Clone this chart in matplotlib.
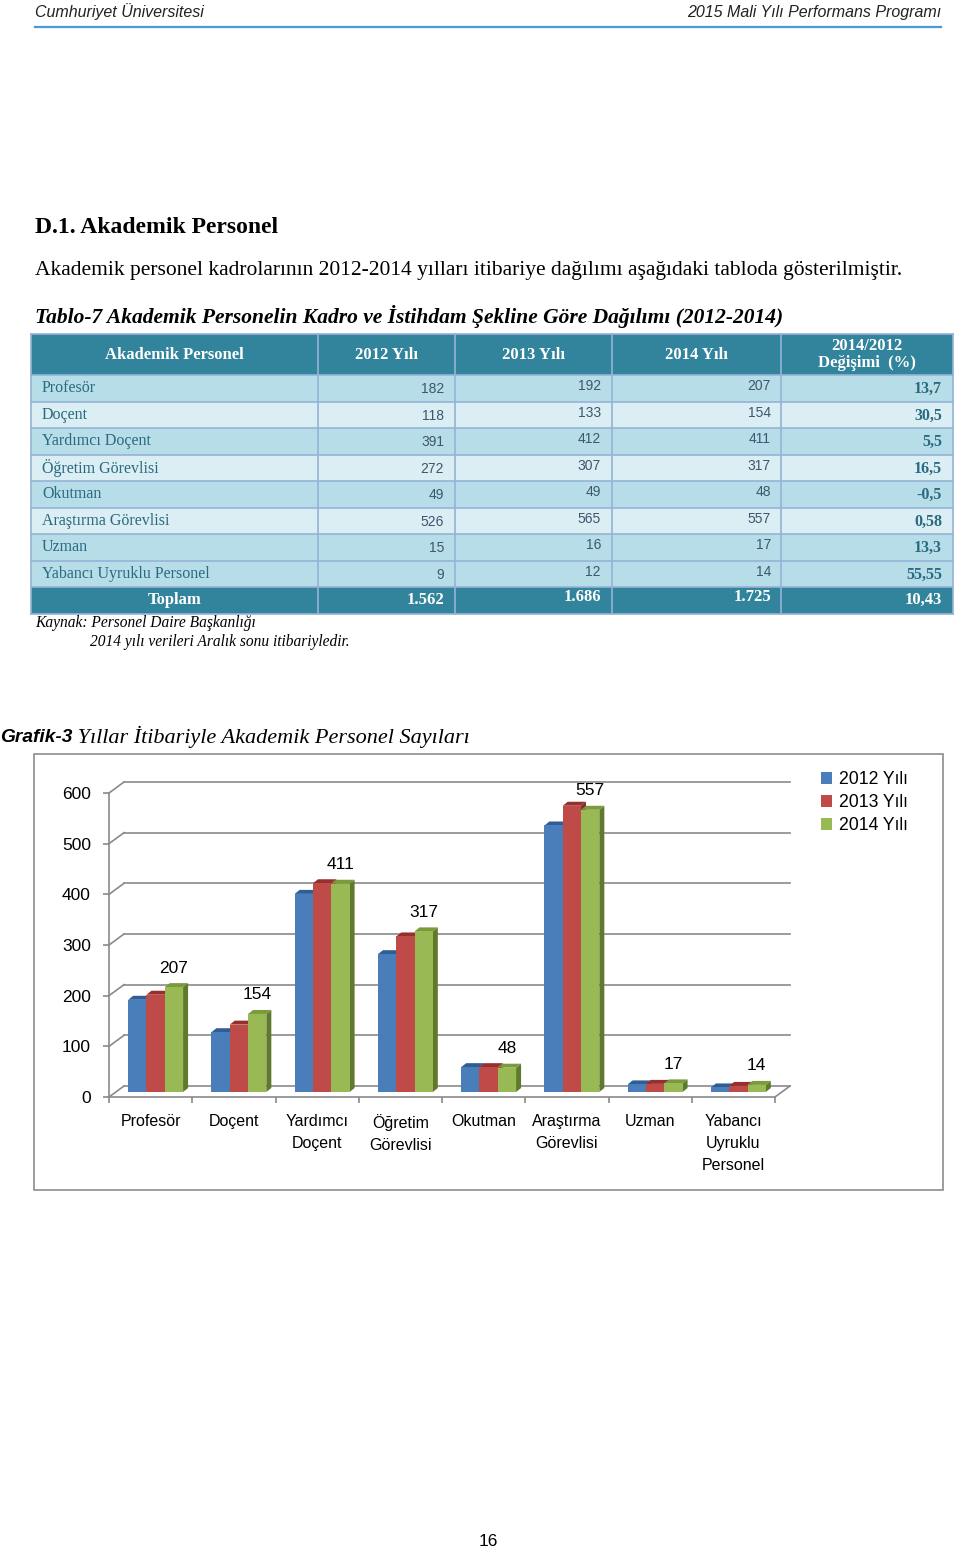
import numpy as np
import matplotlib
matplotlib.use("Agg")
import matplotlib.pyplot as plt
from matplotlib.patches import Rectangle, Polygon, Patch

SANS = "Liberation Sans"
SERIF = "Liberation Serif"

# table / chart data
categories = ["Profesör", "Doçent", "Yardımcı Doçent", "Öğretim Görevlisi",
              "Okutman", "Araştırma Görevlisi", "Uzman", "Yabancı Uyruklu Personel"]
chart_labels = ["Profesör", "Doçent", "Yardımcı\nDoçent", "Öğretim\nGörevlisi",
                "Okutman", "Araştırma\nGörevlisi", "Uzman", "Yabancı\nUyruklu\nPersonel"]
y2012 = [182, 118, 391, 272, 49, 526, 15, 9]
y2013 = [192, 133, 412, 307, 49, 565, 16, 12]
y2014 = [207, 154, 411, 317, 48, 557, 17, 14]
change = ["13,7", "30,5", "5,5", "16,5", "-0,5", "0,58", "13,3", "55,55"]
totals = ["1.562", "1.686", "1.725", "10,43"]
series_names = ["2012 Yılı", "2013 Yılı", "2014 Yılı"]
col_headers = ["Akademik Personel", "2012 Yılı", "2013 Yılı", "2014 Yılı", "2014/2012\nDeğişimi  (%)"]
y_ticks = [0, 100, 200, 300, 400, 500, 600]

W, H = 960, 1549
fig = plt.figure(figsize=(W / 100, H / 100), dpi=100)
page = fig.add_axes([0, 0, 1, 1])
page.set_xlim(0, W)
page.set_ylim(H, 0)
page.axis("off")

# --- page header ---
page.text(35, 12, "Cumhuriyet Üniversitesi", family=SANS, style="italic", fontsize=11.5,
          va="center", ha="left", color="#222222")
page.text(941, 12, "2015 Mali Yılı Performans Programı", family=SANS, style="italic",
          fontsize=11.5, va="center", ha="right", color="#222222")
page.plot([35, 941], [27, 27], color="#4A9AD4", lw=1.6)

page.text(35, 227, "D.1. Akademik Personel", family=SERIF, weight="bold", fontsize=17,
          va="center")
page.text(35, 270, "Akademik personel kadrolarının 2012-2014 yılları itibariye dağılımı "
          "aşağıdaki tabloda gösterilmiştir.", family=SERIF, fontsize=15.5, va="center")
page.text(35, 316, "Tablo-7 Akademik Personelin Kadro ve İstihdam Şekline Göre Dağılımı (2012-2014)",
          family=SERIF, weight="bold", style="italic", fontsize=15.5, va="center")

# --- table ---
col_x = [31, 318, 455, 612, 781, 953]
head_top, head_bot = 334, 375
row_h = 26.5
dark = "#31849B"
med = "#B7DDE8"
light = "#DAEEF3"
line_c = "#95B3D7"
row_fill = [med, light, med, light, med, light, med, med]

page.add_patch(Rectangle((col_x[0], head_top), col_x[-1] - col_x[0], head_bot - head_top,
                         facecolor=dark, edgecolor="none"))
for i in range(len(categories)):
    top = head_bot + i * row_h
    page.add_patch(Rectangle((col_x[0], top), col_x[-1] - col_x[0], row_h,
                             facecolor=row_fill[i], edgecolor="none"))
tot_top = head_bot + len(categories) * row_h
page.add_patch(Rectangle((col_x[0], tot_top), col_x[-1] - col_x[0], row_h,
                         facecolor=dark, edgecolor="none"))
# grid lines
for k in range(len(categories) + 2):
    yy = head_bot + k * row_h
    page.plot([col_x[0], col_x[-1]], [yy, yy], color=line_c, lw=1.2)
page.plot([col_x[0], col_x[-1]], [head_top, head_top], color=line_c, lw=1.2)
for xx in col_x:
    page.plot([xx, xx], [head_top, tot_top + row_h], color=line_c, lw=1.2)

head_cy = (head_top + head_bot) / 2
for j, hdr in enumerate(col_headers):
    cx = (col_x[j] + col_x[j + 1]) / 2
    page.text(cx, head_cy, hdr, family=SERIF, weight="bold", fontsize=12, color="white",
              ha="center", va="center", linespacing=1.05)

txt_c = "#2A6A80"
num_c = "#3E5670"
for i, name in enumerate(categories):
    cy = head_bot + i * row_h + row_h / 2
    page.text(42, cy, name, family=SERIF, fontsize=11.5, color=txt_c, ha="left", va="center")
    page.text(col_x[2] - 11, cy + 1, str(y2012[i]), family=SANS, fontsize=10, color=num_c,
              ha="right", va="center")
    page.text(col_x[3] - 11, cy - 2, str(y2013[i]), family=SANS, fontsize=10, color=num_c,
              ha="right", va="center")
    page.text(col_x[4] - 10, cy - 2, str(y2014[i]), family=SANS, fontsize=10, color=num_c,
              ha="right", va="center")
    page.text(col_x[5] - 11, cy + 1, change[i], family=SERIF, weight="bold", fontsize=11.5,
              color=txt_c, ha="right", va="center")

tcy = tot_top + row_h / 2
page.text((col_x[0] + col_x[1]) / 2, tcy, "Toplam", family=SERIF, weight="bold", fontsize=12,
          color="white", ha="center", va="center")
page.text(col_x[2] - 11, tcy, totals[0], family=SERIF, weight="bold", fontsize=12,
          color="white", ha="right", va="center")
page.text(col_x[3] - 11, tcy - 3, totals[1], family=SERIF, weight="bold", fontsize=12,
          color="white", ha="right", va="center")
page.text(col_x[4] - 10, tcy - 3, totals[2], family=SERIF, weight="bold", fontsize=12,
          color="white", ha="right", va="center")
page.text(col_x[5] - 11, tcy, totals[3], family=SERIF, weight="bold", fontsize=12,
          color="white", ha="right", va="center")

page.text(35, 623, "Kaynak: Personel Daire Başkanlığı", family=SERIF, style="italic",
          fontsize=11.2, va="center")
page.text(90, 642, "2014 yılı verileri Aralık sonu itibariyledir.", family=SERIF,
          style="italic", fontsize=11.2, va="center")

# --- chart title ---
t1 = page.text(0, 737, "Grafik-3", family=SANS, weight="bold", style="italic",
               fontsize=13.8, va="center", ha="left")
page.annotate(" Yıllar İtibariyle Akademik Personel Sayıları", xy=(1, 0.5), xycoords=t1,
              family=SERIF, style="italic", fontsize=16, va="center", ha="left")

# chart frame
page.add_patch(Rectangle((34, 754), 909, 436, facecolor="none", edgecolor="#8C8C8C", lw=1.2))

page.text(488, 1541, "16", family=SANS, fontsize=12.5, ha="center", va="center")

# --- bar chart ---
x0_px, x1_px = 109, 775
y0_px, y1_px = 1097, 793
ax = fig.add_axes([x0_px / W, 1 - y0_px / H, (x1_px - x0_px) / W, (y0_px - y1_px) / H])
ax.set_xlim(-0.5, 7.5)
ax.set_ylim(0, 600)
ax.patch.set_alpha(0)

ux = ax.bbox.width / 8.0     # px per category
uy = ax.bbox.height / 600.0  # px per unit


def off(px, py):
    return px / ux, py / uy


bx, by = off(15, 11)   # back wall depth
gx, gy = off(5, 5)     # bar position inside the depth
dx, dy = off(5, 4)     # bar depth
grid_c = "#8A8A8A"

for t in y_ticks:
    ax.plot([-0.5, -0.5 + bx], [t, t + by], color=grid_c, lw=1.2, clip_on=False, zorder=1)
    ax.plot([-0.5 + bx, 7.5 + bx], [t + by, t + by], color=grid_c, lw=1.2, clip_on=False,
            zorder=1)
ax.plot([7.5, 7.5 + bx], [0, by], color=grid_c, lw=1.2, clip_on=False, zorder=1)

for s in ["top", "right"]:
    ax.spines[s].set_visible(False)
for s in ["left", "bottom"]:
    ax.spines[s].set_color(grid_c)
    ax.spines[s].set_linewidth(1.2)

face = ["#4A7EBB", "#BE4B48", "#98B954"]
side = ["#2C5180", "#822D2B", "#5F7A2C"]
topc = ["#2F5D95", "#962F2D", "#7A9A3C"]
series = [y2012, y2013, y2014]
bw = 18.3 / ux
xc = np.arange(len(categories))

z = 3
for i in range(len(categories)):
    for j, vals in enumerate(series):
        v = vals[i]
        xl = xc[i] - 1.5 * bw + j * bw + gx
        xr = xl + bw
        ax.add_patch(Polygon([(xr, gy), (xr, gy + v), (xr + dx, gy + v + dy), (xr + dx, gy + dy)],
                             closed=True, facecolor=side[j], edgecolor="none", zorder=z,
                             clip_on=False))
        ax.add_patch(Polygon([(xl, gy + v), (xr, gy + v), (xr + dx, gy + v + dy),
                              (xl + dx, gy + v + dy)], closed=True, facecolor=topc[j],
                             edgecolor="none", zorder=z, clip_on=False))
        ax.bar(xl, v, width=bw, bottom=gy, align="edge", color=face[j], edgecolor="none",
               zorder=z + 0.5, clip_on=False)
        z += 1
    xg = xc[i] + 1.5 * bw - bw / 2 + gx
    ax.annotate(str(y2014[i]), xy=(xg, gy + y2014[i]), xytext=(0, 13.7),
                textcoords="offset points", ha="center", va="center", family=SANS,
                fontsize=12.5, zorder=50, annotation_clip=False)

ax.set_yticks(y_ticks)
ax.set_yticklabels([str(t) for t in y_ticks], family=SANS, fontsize=12.5)
ax.tick_params(axis="y", length=4, width=1.2, color=grid_c, pad=9)
ax.set_xticks(xc)
ax.set_xticklabels(chart_labels, family=SANS, fontsize=11.5, linespacing=1.6)
ax.tick_params(axis="x", which="major", length=0, pad=12)
ax.set_xticks(np.arange(-0.5, 8.0, 1.0), minor=True)
ax.tick_params(axis="x", which="minor", length=4.5, width=1.2, color=grid_c)
for lab in ax.get_xticklabels():
    lab.set_verticalalignment("top")

handles = [Patch(facecolor=c, edgecolor="none") for c in face]
ax.legend(handles, series_names, loc="upper left", bbox_to_anchor=(821 / W, 1 - 771 / H),
          bbox_transform=fig.transFigure, frameon=False, prop={"family": SANS, "size": 12.7},
          handlelength=0.65, handleheight=0.7, handletextpad=0.35, labelspacing=0.34,
          borderpad=0, borderaxespad=0)

fig.savefig("out.png", dpi=100)
